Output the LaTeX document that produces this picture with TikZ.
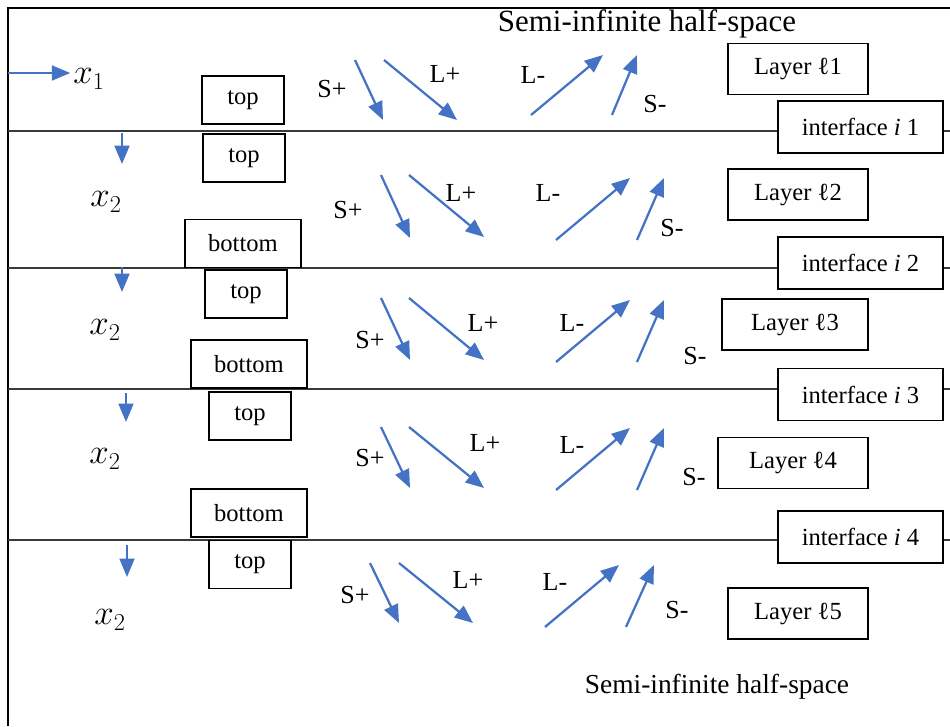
\documentclass[tikz,border=0pt]{standalone}
\usepackage{fontspec}
\setmainfont{Liberation Serif}
\usepackage{xcolor}
\usepackage{tikz}
\usetikzlibrary{arrows.meta}
\definecolor{rblue}{HTML}{4472C4}
\definecolor{lgray}{HTML}{3A3A3A}

\tikzset{
  box/.style={draw=black, line width=0.9pt, fill=white, inner sep=0pt,
    font=\fontsize{17.5}{20}\selectfont},
  tbox/.style={box, minimum width=2.05cm, minimum height=1.2cm},
  bbox/.style={box, minimum width=2.9cm, minimum height=1.2cm},
  lbox/.style={box, minimum width=3.5cm, minimum height=1.27cm},
  ibox/.style={box, minimum width=4.125cm, minimum height=1.3cm},
  ray/.style={draw=rblue, line width=1.6pt, -{Triangle[length=13pt,width=10.5pt]}},
  iface/.style={draw=lgray, line width=1pt},
  wlab/.style={font=\fontsize{18.5}{20}\selectfont, inner sep=0pt},
  xlab/.style={font=\fontsize{26}{28}\selectfont, inner sep=2pt}
}

\begin{document}
\begin{tikzpicture}[x=0.025cm, y=-0.025cm]
\useasboundingbox (0,0) rectangle (950,726);
\draw[line width=0.9pt] (8,726) -- (8,8) -- (950,8);
\node[font=\fontsize{22}{24}\selectfont, inner sep=0pt] (hs1) at (647,24) {Semi-infinite half-space};
\node[font=\fontsize{19.5}{22}\selectfont, inner sep=0pt] (hs2) at (717,687) {Semi-infinite half-space};

\node[lbox] (ly1) at (798,69) {Layer ℓ1};
\node[lbox] (ly2) at (798,194.5) {Layer ℓ2};
\node[lbox, minimum width=3.65cm] (ly3) at (795,324.5) {Layer ℓ3};
\node[lbox, minimum width=3.75cm] (ly4) at (793,463) {Layer ℓ4};
\node[lbox] (ly5) at (798,613.5) {Layer ℓ5};

\node[ibox] (if1) at (860.5,127) {interface \textit{i} 1};
\node[ibox] (if2) at (860.5,263) {interface \textit{i} 2};
\node[ibox] (if3) at (860.5,394.5) {interface \textit{i} 3};
\node[ibox] (if4) at (860.5,537) {interface \textit{i} 4};

\coordinate (e1) at (8,131);   \coordinate (f1) at (950,131);
\coordinate (e2) at (8,268);   \coordinate (f2) at (950,268);
\coordinate (e3) at (8,389);   \coordinate (f3) at (950,389);
\coordinate (e4) at (8,540);   \coordinate (f4) at (950,540);
\draw[iface] (e1) -- (e1 -| if1.west);
\draw[iface] (e1 -| if1.east) -- (f1);
\draw[iface] (e2) -- (e2 -| if2.west);
\draw[iface] (e2 -| if2.east) -- (f2);
\draw[iface] (e3) -- (e3 -| if3.west);
\draw[iface] (e3 -| if3.east) -- (f3);
\draw[iface] (e4) -- (e4 -| if4.west);
\draw[iface] (e4 -| if4.east) -- (f4);

\node[tbox] (tp1) at (243,100) {top};
\node[tbox] (tp2) at (244,158) {top};
\node[bbox] (bt2) at (243,243.5) {bottom};
\node[tbox] (tp3) at (246,294) {top};
\node[bbox] (bt3) at (249,364) {bottom};
\node[tbox] (tp4) at (250,416) {top};
\node[bbox] (bt4) at (249,513) {bottom};
\node[tbox] (tp5) at (250,564.5) {top};

\node[xlab] (x1) at (89,79) {$x_1$};
\node[xlab] (x2a) at (106,202) {$x_2$};
\node[xlab] (x2b) at (105,330) {$x_2$};
\node[xlab] (x2c) at (105,459) {$x_2$};
\node[xlab] (x2d) at (110,620) {$x_2$};
\coordinate (x1s) at (8,73);
\draw[ray] (x1s) -- (x1.west |- x1s);
\draw[ray] (122,133) -- (122,164);
\draw[ray] (122,267) -- (122,292);
\draw[ray] (126,393) -- (126,422);
\draw[ray] (127,545) -- (127,577);

\draw[ray] (355,60) -- (383,120);
\draw[ray] (384,60) -- (457,120);
\draw[ray] (531,115) -- (603,55);
\draw[ray] (612,115) -- (637,55);
\node[wlab] (sp1) at (332,89) {S+};
\node[wlab] (lp1) at (445,74) {L+};
\node[wlab] (lm1) at (533,75) {L-};
\node[wlab] (sm1) at (655,104) {S-};

\draw[ray] (381,175) -- (410,238);
\draw[ray] (409,175) -- (484,237);
\draw[ray] (556,240) -- (630,178);
\draw[ray] (637,240) -- (664,178);
\node[wlab] (sp2) at (348,210) {S+};
\node[wlab] (lp2) at (461,193) {L+};
\node[wlab] (lm2) at (548,193) {L-};
\node[wlab] (sm2) at (672,228) {S-};

\draw[ray] (381,298) -- (410,360);
\draw[ray] (409,298) -- (484,360);
\draw[ray] (556,362) -- (630,300);
\draw[ray] (637,362) -- (664,300);
\node[wlab] (sp3) at (370,340) {S+};
\node[wlab] (lp3) at (483,323) {L+};
\node[wlab] (lm3) at (572,323) {L-};
\node[wlab] (sm3) at (695,356) {S-};

\draw[ray] (381,427) -- (410,488);
\draw[ray] (409,427) -- (484,488);
\draw[ray] (556,490) -- (630,428);
\draw[ray] (637,490) -- (664,428);
\node[wlab] (sp4) at (370,458) {S+};
\node[wlab] (lp4) at (485,443) {L+};
\node[wlab] (lm4) at (572,445) {L-};
\node[wlab] (sm4) at (694,477) {S-};

\draw[ray] (370,563) -- (399,623);
\draw[ray] (399,563) -- (473,623);
\draw[ray] (545,627) -- (619,565);
\draw[ray] (626,627) -- (654,565);
\node[wlab] (sp5) at (355,595) {S+};
\node[wlab] (lp5) at (468,580) {L+};
\node[wlab] (lm5) at (555,582) {L-};
\node[wlab] (sm5) at (677,610) {S-};
\end{tikzpicture}
\end{document}
